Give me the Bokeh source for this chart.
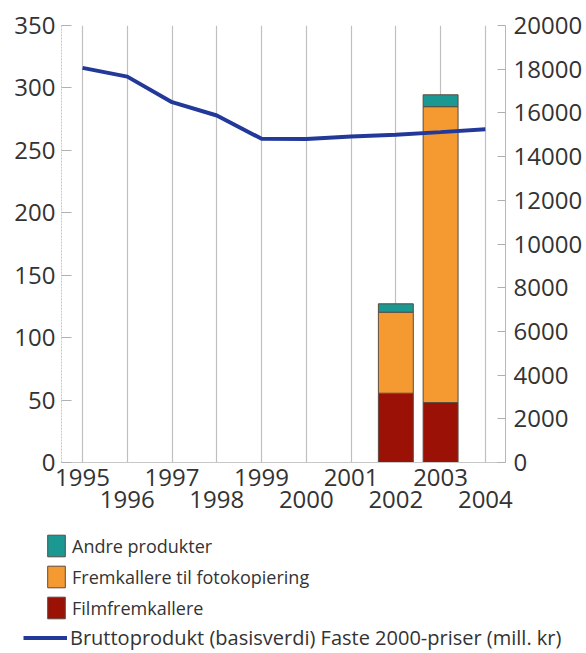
from bokeh.plotting import figure
from bokeh.layouts import column
from bokeh.models import (Range1d, LinearAxis, FixedTicker, Legend, LegendItem,
                          ColumnDataSource)
from bokeh.embed import file_html
from bokeh.resources import INLINE

# ---- data ----
years = [1995, 1996, 1997, 1998, 1999, 2000, 2001, 2002, 2003, 2004]
bruttoprodukt = [18060, 17660, 16490, 15880, 14815, 14810, 14920, 15000, 15120, 15250]

bar_years = [2002, 2003]
filmfremkallere = [55.5, 48.0]
fremkallere_foto = [64.9, 237.0]
andre_produkter = [6.7, 9.5]

left_ticks = [0, 50, 100, 150, 200, 250, 300, 350]
right_ticks = [0, 2000, 4000, 6000, 8000, 10000, 12000, 14000, 16000, 18000, 20000]
odd_years = [1995, 1997, 1999, 2001, 2003]
even_years = [1996, 1998, 2000, 2002, 2004]

series_names = ["Filmfremkallere", "Fremkallere til fotokopiering", "Andre produkter"]
line_name = "Bruttoprodukt (basisverdi) Faste 2000-priser (mill. kr)"
bar_colors = ["#9b1106", "#f49a31", "#1c9892"]
line_color = "#22399a"

FONT = "Open Sans"
TXT = "#333333"
TICK_SIZE = "24px"

p = figure(width=586, height=530, output_backend="svg", toolbar_location=None,
           x_range=Range1d(1994.53, 2004.45), y_range=Range1d(0, 350),
           min_border_left=61, min_border_right=81, min_border_top=25,
           min_border_bottom=68)
p.outline_line_color = None
p.frame_align = False

p.extra_y_ranges = {"right": Range1d(0, 20000)}

# grid
p.ygrid.grid_line_color = None
p.xgrid.ticker = FixedTicker(ticks=years)
p.xgrid.grid_line_color = "#c0c0c0"
p.xgrid.grid_line_width = 1.2

# left axis
ya = p.yaxis[0]
ya.ticker = FixedTicker(ticks=left_ticks)
ya.axis_line_color = "#c8c8c8"
ya.axis_line_dash = "2 1"
ya.major_tick_in = 10
ya.major_tick_out = 0
ya.major_tick_line_color = "#b0b0b0"
ya.minor_tick_line_color = None
ya.major_label_standoff = 6
ya.major_label_text_font = FONT
ya.major_label_text_font_size = TICK_SIZE
ya.major_label_text_color = TXT

# right axis
ra = LinearAxis(y_range_name="right", ticker=FixedTicker(ticks=right_ticks))
ra.axis_line_color = "#b8b8b8"
ra.major_tick_in = 8
ra.major_tick_out = 0
ra.major_tick_line_color = "#b0b0b0"
ra.minor_tick_line_color = None
ra.major_label_standoff = 8
ra.major_label_text_font = FONT
ra.major_label_text_font_size = TICK_SIZE
ra.major_label_text_color = TXT
p.add_layout(ra, "right")

# bottom axes (two rows of year labels)
xa = p.xaxis[0]
xa.ticker = FixedTicker(ticks=odd_years)
xa.axis_line_color = "#c8c8c8"
xa.major_tick_line_color = None
xa.minor_tick_line_color = None
xa.major_label_standoff = 0
xa.major_label_text_font = FONT
xa.major_label_text_font_size = TICK_SIZE
xa.major_label_text_color = TXT

xa2 = LinearAxis(ticker=FixedTicker(ticks=even_years))
xa2.axis_line_color = None
xa2.major_tick_line_color = None
xa2.minor_tick_line_color = None
xa2.major_label_standoff = -4
xa2.major_label_text_font = FONT
xa2.major_label_text_font_size = TICK_SIZE
xa2.major_label_text_color = TXT
p.add_layout(xa2, "below")

# stacked bars
src = ColumnDataSource(dict(x=bar_years, film=filmfremkallere,
                            foto=fremkallere_foto, andre=andre_produkter))
bars = p.vbar_stack(["film", "foto", "andre"], x="x", width=0.78, source=src,
                    color=bar_colors, line_color="#5a4a40", line_width=1)

# line
line = p.line(years, bruttoprodukt, y_range_name="right", line_color=line_color,
              line_width=4)

# ---- legend figure ----
lg = figure(width=586, height=123, output_backend="svg", toolbar_location=None,
            x_range=Range1d(0, 1), y_range=Range1d(0, 1),
            x_axis_location=None, y_axis_location=None,
            min_border_left=0, min_border_right=0, min_border_top=0,
            min_border_bottom=0)
lg.outline_line_color = None
lg.grid.grid_line_color = None
lg.frame_align = False

# proxy glyphs (far outside the visible range) that only serve the legend
proxies = [lg.vbar(x=[-50], bottom=[-50], top=[-49], width=0.1, fill_color=c,
                   line_color="#5a4a40")
           for c in bar_colors]
line_proxy = lg.line(x=[-50, -49], y=[-50, -50], line_color=line_color, line_width=4)

legend1 = Legend(items=[LegendItem(label=series_names[2], renderers=[proxies[2]]),
                        LegendItem(label=series_names[1], renderers=[proxies[1]]),
                        LegendItem(label=series_names[0], renderers=[proxies[0]])],
                 location=(45, 32), padding=0, margin=0, spacing=4,
                 glyph_width=22, glyph_height=27, label_height=27,
                 label_standoff=5, border_line_color=None,
                 background_fill_alpha=0,
                 label_text_font=FONT, label_text_font_size="18px",
                 label_text_color=TXT)
legend2 = Legend(items=[LegendItem(label=line_name, renderers=[line_proxy])],
                 location=(23, 2), padding=0, margin=0,
                 glyph_width=44, glyph_height=27, label_height=27,
                 label_standoff=3, border_line_color=None,
                 background_fill_alpha=0,
                 label_text_font=FONT, label_text_font_size="20px",
                 label_text_color=TXT)
lg.add_layout(legend1, "center")
lg.add_layout(legend2, "center")

layout = column(p, lg, spacing=0)
open("out.html", "w").write(file_html(layout, INLINE))
